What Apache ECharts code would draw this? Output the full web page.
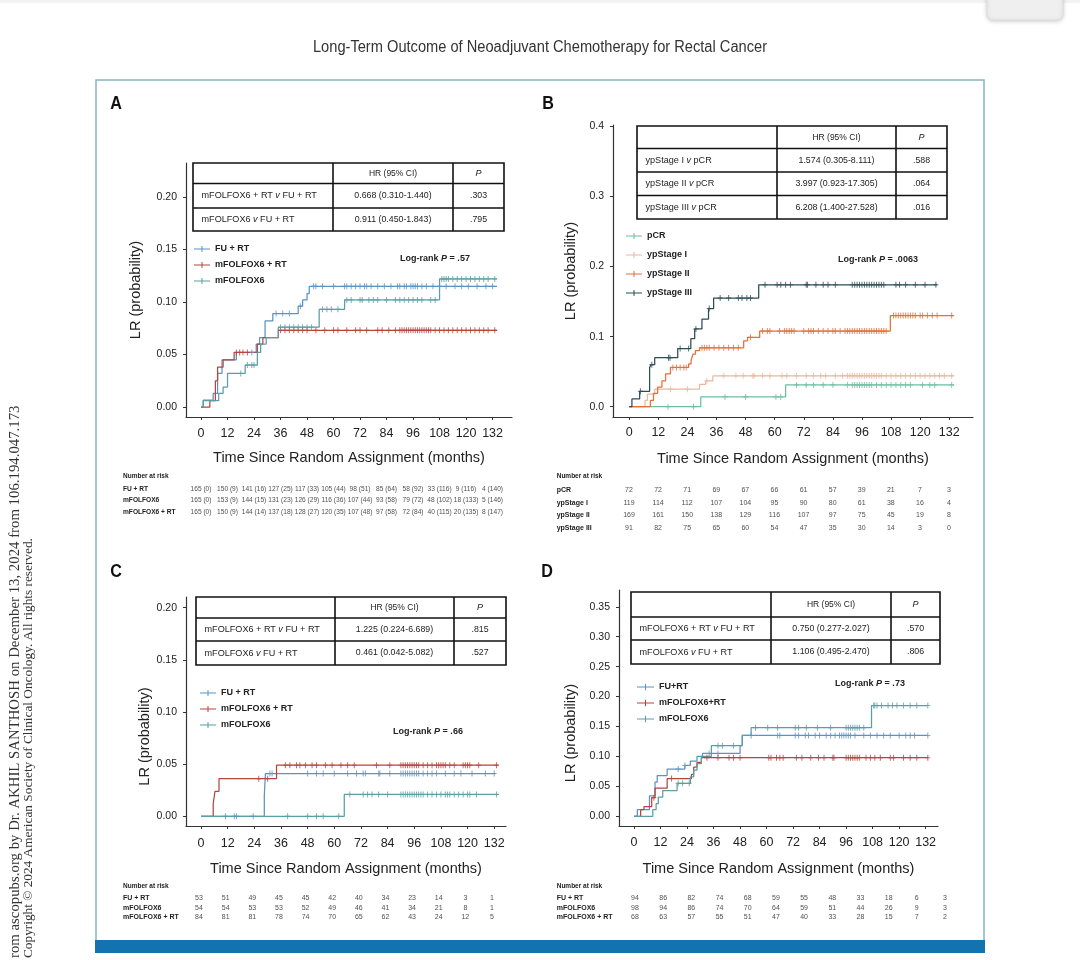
<!DOCTYPE html>
<html><head><meta charset="utf-8">
<script src="https://cdn.jsdelivr.net/npm/echarts@6/dist/echarts.min.js"></script>
<style>html,body{margin:0;padding:0;background:#fff}#c{width:1080px;height:960px}</style>
</head><body><div id="c"></div>
<script>
// ---------------- DATA ----------------
const MONTHS = [0,12,24,36,48,60,72,84,96,108,120,132];

// Panel A : cumulative LR, all patients (steps: [month, probability])
const A_FU_RT = [[0,0],[1,0.0065],[5.5,0.013],[7.5,0.032],[9.5,0.045],[16,0.052],[25,0.060],[26.5,0.066],[29,0.082],[32.5,0.089],[44,0.096],[46,0.102],[48,0.108],[49,0.115],[134,0.115]];
const A_FOLFOX_RT = [[0,0],[4,0.006],[6.5,0.025],[7.5,0.038],[10,0.045],[15,0.052],[25.5,0.060],[28,0.066],[35,0.073],[134,0.073]];
const A_FOLFOX = [[0,0],[1,0.006],[8,0.013],[10,0.019],[12,0.032],[20,0.040],[25.5,0.052],[27,0.060],[29.5,0.066],[35,0.076],[53.5,0.093],[65,0.102],[108,0.122],[134,0.122]];
const A_CENS_FU_RT = [23,34,37,40,45,51,52,55,60,65,66,68,70,72,74,75,77,80,83,86,89,90,92,93,95,96,97,98,100,102,105,108,111,115,118,121,125,129,132];
const A_CENS_FOLFOX_RT = [16,17.5,19,21,36,38,40,42,44,46,48,52,56,60,62,66,70,72,75,80,82,85,88,90,91,92,93,94,95,96,97,98,99,100,101,102,103,104,106,108,110,112,114,116,118,120,122,124,126,128,130,133];
const A_CENS_FOLFOX = [18,21,23,24,36,38,40,42,44,46,48,50,55,57,59,62,66,68,72,73,76,78,80,84,88,90,92,94,96,98,100,104,106,109,110,111,112,114,116,118,120,122,124,126,128,130,133];
const A_RISK_LABELS = ['FU + RT','mFOLFOX6','mFOLFOX6 + RT'];
const A_RISK_FU_RT = [165,150,141,127,117,105,98,85,58,33,9,4];
const A_CENSN_FU_RT = [0,9,16,25,33,44,51,64,92,116,116,140];
const A_RISK_FOLFOX = [165,153,144,131,126,116,107,93,79,48,18,5];
const A_CENSN_FOLFOX = [0,9,15,23,29,36,44,58,72,102,133,146];
const A_RISK_FOLFOX_RT = [165,150,144,137,128,120,107,97,72,40,20,8];
const A_CENSN_FOLFOX_RT = [0,9,14,18,27,35,48,58,84,115,135,147];
const A_HR_LABELS = ['mFOLFOX6 + RT v FU + RT','mFOLFOX6 v FU + RT'];
const A_HR_VALUES = ['0.668 (0.310-1.440)','0.911 (0.450-1.843)'];
const A_HR_P = ['.303','.795'];
const A_LOGRANK = '.57';

// Panel B : by pathologic stage
const B_PCR = [[0,0],[29.5,0.014],[64.5,0.031],[134,0.031]];
const B_S1 = [[0,0],[6.5,0.009],[7.5,0.018],[10.5,0.025],[29,0.032],[31.5,0.037],[34.5,0.044],[134,0.044]];
const B_S2 = [[0,0],[8.7,0.009],[10,0.019],[11.7,0.028],[13.5,0.037],[15,0.047],[17,0.056],[24.5,0.061],[25.5,0.066],[26.3,0.075],[27.3,0.080],[29,0.084],[47.2,0.094],[48.8,0.099],[53.8,0.108],[107.7,0.130],[134,0.130]];
const B_S3 = [[0,0],[1.1,0.011],[4.3,0.022],[8.4,0.056],[9,0.060],[10.5,0.070],[20,0.083],[25.4,0.097],[27,0.111],[30,0.125],[32.7,0.140],[34.8,0.155],[53.4,0.174],[127,0.174]];
const B_CENS_PCR = [16,26.5,39.5,48,60.5,62.5,69,73,76,80,84,90,92,93,94,95,96,97,98,99,100,102,104,106,108,110,112,114,116,121,124,126,133];
const B_CENS_S1 = [17,24,32,39,44,47,51,51.5,55,58,63,65,69,73,76,79,81,85,88,90,91,92,93,94,95,96,97,98,99,100,101,102,103,104,106,108,110,112,114,116,118,120,122,124,126,128,130,133];
const B_CENS_S2 = [18,19.5,21,22.5,23.5,30,31,32,33,35,37,39,41,43,45,50,55,57,58,62,64,65,66,67,68,72,74,75,76,78,80,82,84,85,87,89,90,91,92,93,94,95,96,97,98,99,100,101,102,103,104,105,106,109,110,111,112,113,114,115,116,117,118,120,121,123,125,127,133];
const B_CENS_S3 = [4.6,9.3,16.2,16.8,21,24.5,27.5,33,37.5,41,45,46.5,48.5,50,56,61,62.5,64.5,66.5,73,73.5,77,80,82,85,92,93,94,95,96,97,98,99,100,101,102,103,104,105,110,111.5,114,118,122,126.5];
const B_RISK_LABELS = ['pCR','ypStage I','ypStage II','ypStage III'];
const B_RISK_PCR = [72,72,71,69,67,66,61,57,39,21,7,3];
const B_RISK_S1 = [119,114,112,107,104,95,90,80,61,38,16,4];
const B_RISK_S2 = [169,161,150,138,129,116,107,97,75,45,19,8];
const B_RISK_S3 = [91,82,75,65,60,54,47,35,30,14,3,0];
const B_HR_LABELS = ['ypStage I v pCR','ypStage II v pCR','ypStage III v pCR'];
const B_HR_VALUES = ['1.574 (0.305-8.111)','3.997 (0.923-17.305)','6.208 (1.400-27.528)'];
const B_HR_P = ['.588','.064','.016'];
const B_LOGRANK = '.0063';

// Panel C
const C_FU_RT = [[0,0],[28.5,0.020],[29,0.041],[132.5,0.041]];
const C_FOLFOX_RT = [[0,0],[5.5,0.012],[6.3,0.024],[8.1,0.036],[34,0.049],[134,0.049]];
const C_FOLFOX = [[0,0],[64.5,0.021],[134,0.021]];
const C_CENS_FU_RT = [11,15,16,23.5,31,32,48,52,55,60,66,70,73,74,80,80.5,85,90,91,92,93,94,95,96,97,98,100,102,104,106,110,114,117,122,128,132];
const C_CENS_FOLFOX_RT = [26,30,38,40,43,44.5,47,50,52,56,59,63,66,69,79,85,90,91,92,93,94,95,96,97,98,100,102,104,106,107,108,109,110,112,114,118,119,120,121,125,133];
const C_CENS_FOLFOX = [39,48,52,55,62,67,73,75,77,80,84,90,91,92,93,94,95,96,97,98,99,100,102,104,106,108,110,111,112,114,116,118,120,121,124,133];
const C_RISK_LABELS = ['FU + RT','mFOLFOX6','mFOLFOX6 + RT'];
const C_RISK_FU_RT = [53,51,49,45,45,42,40,34,23,14,3,1];
const C_RISK_FOLFOX = [54,54,53,53,52,49,46,41,34,21,8,1];
const C_RISK_FOLFOX_RT = [84,81,81,78,74,70,65,62,43,24,12,5];
const C_HR_LABELS = ['mFOLFOX6 + RT v FU + RT','mFOLFOX6 v FU + RT'];
const C_HR_VALUES = ['1.225 (0.224-6.689)','0.461 (0.042-5.082)'];
const C_HR_P = ['.815','.527'];
const C_LOGRANK = '.66';

// Panel D
const D_FU_RT = [[0,0],[1.5,0.011],[7,0.034],[9.5,0.057],[10.5,0.068],[15,0.079],[23,0.085],[25.5,0.092],[28.5,0.100],[31,0.105],[48,0.118],[49,0.135],[133,0.135]];
const D_FOLFOX_RT = [[0,0],[3,0.011],[4.5,0.016],[8,0.031],[9.5,0.047],[15,0.063],[26,0.070],[27,0.082],[28.5,0.090],[30.5,0.098],[133,0.098]];
const D_FOLFOX = [[0,0],[8.5,0.011],[10,0.021],[11,0.032],[13,0.043],[19.5,0.055],[25.5,0.066],[27,0.077],[28.5,0.088],[30.5,0.100],[35,0.118],[49,0.135],[53,0.148],[107.5,0.185],[133,0.185]];
const D_CENS_FU_RT = [20,23,34,38,53,65,66,73,74.5,77.5,79,82,84,87,89,91,93,94,95,96,97,98,100,104,107,110,113,116,120,123,125,127,133];
const D_CENS_FOLFOX_RT = [9,17,33,38,43,45,48,61,62,64.5,66,67.5,73.5,76,80,83.5,86,90,90.5,96,97,98,99,100,101,102,105,107,109,111.5,116,117.5,122,125,128,133];
const D_CENS_FOLFOX = [20,22,25,38,40,45,55,60.5,65,73,74.5,78,83,89,96,97,98,99,100,101,102,104,108.5,109,110,112,115,117,119,122,125,128,133];
const D_RISK_LABELS = ['FU + RT','mFOLFOX6','mFOLFOX6 + RT'];
const D_RISK_FU_RT = [94,86,82,74,68,59,55,48,33,18,6,3];
const D_RISK_FOLFOX = [98,94,86,74,70,64,59,51,44,26,9,3];
const D_RISK_FOLFOX_RT = [68,63,57,55,51,47,40,33,28,15,7,2];
const D_HR_LABELS = ['mFOLFOX6 + RT v FU + RT','mFOLFOX6 v FU + RT'];
const D_HR_VALUES = ['0.750 (0.277-2.027)','1.106 (0.495-2.470)'];
const D_HR_P = ['.570','.806'];
const D_LOGRANK = '.73';

const Y_TICKS_A = [0,0.05,0.10,0.15,0.20];
const Y_TICKS_B = [0,0.1,0.2,0.3,0.4];
const Y_TICKS_C = [0,0.05,0.10,0.15,0.20];
const Y_TICKS_D = [0,0.05,0.10,0.15,0.20,0.25,0.30,0.35];

// ---------------- STYLE ----------------
const FONT = "'Liberation Sans', Arial, sans-serif";
const SERIF = "'Liberation Serif', 'Times New Roman', serif";
const C_FU = '#5b93c4', C_FR = '#b5453d', C_FX = '#5a9ea6';
const C_PCR = '#6fbf9f', C_S1 = '#e8b9a0', C_S2 = '#e4703a', C_S3 = '#2d4d55';
const INK = '#222';
const PLUS = 'path://M2,0H3V2.5H5V3.5H3V6H2V3.5H0V2.5H2Z';
const LEG_ICON = 'path://M0,3.5H16V4.5H0ZM7.5,1H8.5V7H7.5Z';

function levelAt(steps, t){ let v = steps[0][1]; for (const s of steps){ if (s[0] <= t) v = s[1]; } return v; }

const panels = [
  {grid:{left:186,top:163,width:326,height:254}, x:[-6.8,140.8], y:[-0.0095,0.2324], yt:Y_TICKS_A, dec:2, xm:10, ym:9, xg:33, yg:43, ypad:0},
  {grid:{left:613,top:125,width:360,height:292}, x:[-6.7,141.8], y:[-0.0147,0.402], yt:Y_TICKS_B, dec:1, xm:9, ym:9, xg:34, yg:35, ypad:0},
  {grid:{left:186,top:597,width:320,height:229}, x:[-6.75,137.3], y:[-0.0093,0.2102], yt:Y_TICKS_C, dec:2, xm:11, ym:9, xg:35, yg:31, ypad:50},
  {grid:{left:619,top:590,width:319,height:236}, x:[-6.8,137.6], y:[-0.0162,0.378], yt:Y_TICKS_D, dec:2, xm:10, ym:9, xg:35, yg:41, ypad:50}
];
const risks = [
  {grid:{left:186,top:483.25,width:326,height:34.5}, x:[-6.8,140.8], rows:A_RISK_LABELS, margin:63, fs:6.6,
   vals:[A_RISK_FU_RT.map((v,i)=>v+' ('+A_CENSN_FU_RT[i]+')'), A_RISK_FOLFOX.map((v,i)=>v+' ('+A_CENSN_FOLFOX[i]+')'), A_RISK_FOLFOX_RT.map((v,i)=>v+' ('+A_CENSN_FOLFOX_RT[i]+')')]},
  {grid:{left:629,top:483.6,width:320,height:51}, x:[0,132], rows:B_RISK_LABELS, margin:72.3, fs:7,
   vals:[B_RISK_PCR,B_RISK_S1,B_RISK_S2,B_RISK_S3]},
  {grid:{left:199,top:893.5,width:293,height:28.5}, x:[0,132], rows:C_RISK_LABELS, margin:76, fs:7,
   vals:[C_RISK_FU_RT,C_RISK_FOLFOX,C_RISK_FOLFOX_RT]},
  {grid:{left:635,top:893.3,width:310,height:29}, x:[0,132], rows:D_RISK_LABELS, margin:78.3, fs:7,
   vals:[D_RISK_FU_RT,D_RISK_FOLFOX,D_RISK_FOLFOX_RT]}
];

const grids = [], xAxes = [], yAxes = [], series = [];
panels.forEach((p,i)=>{
  grids.push(p.grid);
  xAxes.push({gridIndex:i, type:'value', min:p.x[0], max:p.x[1],
    axisLine:{show:true,onZero:false,lineStyle:{color:'#333',width:1.2}},
    axisTick:{show:true,length:3,customValues:MONTHS,lineStyle:{color:'#333'}},
    axisLabel:{customValues:MONTHS,fontSize:12.5,color:INK,margin:p.xm,fontFamily:FONT},
    splitLine:{show:false},
    name:'Time Since Random Assignment (months)', nameLocation:'middle', nameGap:p.xg,
    nameTextStyle:{fontSize:14.5,fontFamily:FONT,color:INK}});
  yAxes.push({gridIndex:i, type:'value', min:p.y[0], max:p.y[1],
    axisLine:{show:true,onZero:false,lineStyle:{color:'#333',width:1.2}},
    axisTick:{show:true,length:3,customValues:p.yt,lineStyle:{color:'#333'}},
    axisLabel:{customValues:p.yt,fontSize:10.5,color:INK,margin:p.ym,fontFamily:FONT,formatter:v=>Number(v).toFixed(p.dec)},
    splitLine:{show:false},
    name:'LR (probability)', nameLocation:'middle', nameGap:p.yg,
    nameTextStyle:{fontSize:14.5,fontFamily:FONT,color:INK,padding:[0,p.ypad,0,0]}});
});
risks.forEach((r,k)=>{
  const gi = 4+k;
  grids.push(r.grid);
  xAxes.push({gridIndex:gi,type:'value',min:r.x[0],max:r.x[1],show:false});
  yAxes.push({gridIndex:gi,type:'category',data:r.rows,inverse:true,
    axisLine:{show:false},axisTick:{show:false},splitLine:{show:false},
    axisLabel:{align:'left',margin:r.margin,fontSize:r.fs,fontWeight:'bold',color:INK,fontFamily:FONT}});
  const data = [];
  r.vals.forEach((row,ri)=>row.forEach((v,j)=>data.push({name:String(v),value:[MONTHS[j],r.rows[ri]]})));
  series.push({type:'scatter',name:'risk'+k,xAxisIndex:gi,yAxisIndex:gi,data,symbolSize:1,
    itemStyle:{color:'rgba(0,0,0,0)'},silent:true,animation:false,
    label:{show:true,position:'inside',formatter:'{b}',fontSize:r.fs,color:INK,fontFamily:FONT}});
});

function curve(name, steps, color, gi){
  return {type:'line',name,xAxisIndex:gi,yAxisIndex:gi,data:steps,step:'end',symbol:'none',showSymbol:false,
    lineStyle:{color,width:1.25},itemStyle:{color},animation:false,silent:true,z:3};
}
function cens(name, times, steps, color, gi){
  return {type:'scatter',name,xAxisIndex:gi,yAxisIndex:gi,data:times.map(t=>[t,levelAt(steps,t)]),
    symbol:PLUS,symbolSize:[5,6],itemStyle:{color},animation:false,silent:true,z:4};
}
series.push(
  curve('FU + RT',A_FU_RT,C_FU,0), curve('mFOLFOX6 + RT',A_FOLFOX_RT,C_FR,0), curve('mFOLFOX6',A_FOLFOX,C_FX,0),
  cens('FU + RT',A_CENS_FU_RT,A_FU_RT,C_FU,0), cens('mFOLFOX6 + RT',A_CENS_FOLFOX_RT,A_FOLFOX_RT,C_FR,0), cens('mFOLFOX6',A_CENS_FOLFOX,A_FOLFOX,C_FX,0),
  curve('pCR',B_PCR,C_PCR,1), curve('ypStage I',B_S1,C_S1,1), curve('ypStage II',B_S2,C_S2,1), curve('ypStage III',B_S3,C_S3,1),
  cens('pCR',B_CENS_PCR,B_PCR,C_PCR,1), cens('ypStage I',B_CENS_S1,B_S1,C_S1,1), cens('ypStage II',B_CENS_S2,B_S2,C_S2,1), cens('ypStage III',B_CENS_S3,B_S3,C_S3,1),
  curve('FU + RT',C_FU_RT,C_FU,2), curve('mFOLFOX6 + RT',C_FOLFOX_RT,C_FR,2), curve('mFOLFOX6',C_FOLFOX,C_FX,2),
  cens('FU + RT',C_CENS_FU_RT,C_FU_RT,C_FU,2), cens('mFOLFOX6 + RT',C_CENS_FOLFOX_RT,C_FOLFOX_RT,C_FR,2), cens('mFOLFOX6',C_CENS_FOLFOX,C_FOLFOX,C_FX,2),
  curve('FU+RT',D_FU_RT,C_FU,3), curve('mFOLFOX6+RT',D_FOLFOX_RT,C_FR,3), curve('mFOLFOX6',D_FOLFOX,C_FX,3),
  cens('FU+RT',D_CENS_FU_RT,D_FU_RT,C_FU,3), cens('mFOLFOX6+RT',D_CENS_FOLFOX_RT,D_FOLFOX_RT,C_FR,3), cens('mFOLFOX6',D_CENS_FOLFOX,D_FOLFOX,C_FX,3)
);

function legend(left, top, gap, w, items){
  return {left, top, orient:'vertical', padding:0, itemWidth:w, itemHeight:7, itemGap:gap, selectedMode:false,
    textStyle:{fontSize:9,fontWeight:'bold',color:INK,fontFamily:FONT,lineHeight:10},
    data:items.map(it=>({name:it[0],icon:LEG_ICON,itemStyle:{color:it[1]}}))};
}
const legends = [
  legend(194,244,6,16,[['FU + RT',C_FU],['mFOLFOX6 + RT',C_FR],['mFOLFOX6',C_FX]]),
  legend(626,231,9,16,[['pCR',C_PCR],['ypStage I',C_S1],['ypStage II',C_S2],['ypStage III',C_S3]]),
  legend(200,688,6,16,[['FU + RT',C_FU],['mFOLFOX6 + RT',C_FR],['mFOLFOX6',C_FX]]),
  legend(637,682,6,17,[['FU+RT',C_FU],['mFOLFOX6+RT',C_FR],['mFOLFOX6',C_FX]])
];

// ---------------- GRAPHIC (frame, tables, annotations) ----------------
const G = [];
function txt(x,y,text,o,extra){ G.push(Object.assign({type:'text',x,y,z:20,silent:true,
  style:Object.assign({text,fill:INK,fontFamily:FONT,fontSize:9,align:'left',verticalAlign:'middle'},o||{})},extra||{})); }
function ln(x1,y1,x2,y2,stroke,w){ G.push({type:'line',z:19,silent:true,shape:{x1,y1,x2,y2},style:{stroke,lineWidth:w}}); }
const RICH = {i:{fontStyle:'italic',fontSize:9.1,fontFamily:FONT,fill:INK}};
function table(xs, ys, labels, values, ps){
  G.push({type:'rect',z:18,silent:true,shape:{x:xs[0],y:ys[0],width:xs[3]-xs[0],height:ys[ys.length-1]-ys[0]},
    style:{fill:'#fff',stroke:'#111',lineWidth:1.6}});
  ln(xs[1],ys[0],xs[1],ys[ys.length-1],'#111',1.6);
  ln(xs[2],ys[0],xs[2],ys[ys.length-1],'#111',1.6);
  for (let k=1;k<ys.length-1;k++) ln(xs[0],ys[k],xs[3],ys[k],'#111',1.6);
  const hy=(ys[0]+ys[1])/2;
  txt((xs[1]+xs[2])/2,hy,'HR (95% CI)',{align:'center',fontSize:8.5});
  txt((xs[2]+xs[3])/2,hy,'P',{align:'center',fontSize:9,fontStyle:'italic'});
  labels.forEach((l,k)=>{
    const cy=(ys[k+1]+ys[k+2])/2;
    txt(xs[0]+8.5,cy,l.replace(' v ',' {i|v} '),{fontSize:9.1,rich:RICH});
    txt((xs[1]+xs[2])/2,cy,values[k],{align:'center',fontSize:8.8});
    txt((xs[2]+xs[3])/2,cy,ps[k],{align:'center',fontSize:8.8});
  });
}
// page decorations
G.push({type:'rect',z:0,silent:true,shape:{x:0,y:0,width:1080,height:3},style:{fill:'#f3f3f3'}});
G.push({type:'rect',z:1,silent:true,shape:{x:987,y:-8,width:76,height:28,r:6},
  style:{fill:'#efefef',stroke:'#dcdcdc',lineWidth:1,shadowBlur:4,shadowColor:'rgba(0,0,0,0.18)',shadowOffsetY:1}});
G.push({type:'rect',z:0,silent:true,shape:{x:96,y:80,width:888,height:870},style:{fill:'#fff',stroke:'#86b5bf',lineWidth:1.5}});
G.push({type:'rect',z:1,silent:true,shape:{x:95,y:940,width:890,height:13},style:{fill:'#1273b0'}});
txt(540,48,'Long-Term Outcome of Neoadjuvant Chemotherapy for Rectal Cancer',{align:'center',fontSize:16,fill:'#333'},{scaleX:0.915});
G.push({type:'text',x:15,y:958,rotation:Math.PI/2,z:20,silent:true,style:{text:'rom ascopubs.org by Dr. AKHIL SANTHOSH on December 13, 2024 from 106.194.047.173',fontFamily:SERIF,fontSize:14.8,fill:'#333',align:'left',verticalAlign:'middle'}});
G.push({type:'text',x:29,y:958,rotation:Math.PI/2,z:20,silent:true,style:{text:'Copyright © 2024 American Society of Clinical Oncology. All rights reserved.',fontFamily:SERIF,fontSize:13.3,fill:'#333',align:'left',verticalAlign:'middle'}});
// panel letters
[['A',116,104],['B',548,104],['C',116,572],['D',547,572]].forEach(l=>
  txt(l[1],l[2],l[0],{align:'center',fontSize:19,fontWeight:'bold',fill:'#111'},{scaleX:0.85}));
// HR tables
table([193,333,453,504],[163,183.5,208,231],A_HR_LABELS,A_HR_VALUES,A_HR_P);
table([637,777,896,947],[126,148.5,172,195.5,219],B_HR_LABELS,B_HR_VALUES,B_HR_P);
table([196,335,454,506],[597,618,641,665],C_HR_LABELS,C_HR_VALUES,C_HR_P);
table([631,771,891,940],[592,617,640,664],D_HR_LABELS,D_HR_VALUES,D_HR_P);
// log-rank annotations
const RB = {i:{fontStyle:'italic',fontWeight:'bold',fontSize:9,fontFamily:FONT,fill:INK}};
txt(435,259,'Log-rank {i|P} = '+A_LOGRANK,{align:'center',fontWeight:'bold',rich:RB});
txt(878,260,'Log-rank {i|P} = '+B_LOGRANK,{align:'center',fontWeight:'bold',rich:RB});
txt(428,732,'Log-rank {i|P} = '+C_LOGRANK,{align:'center',fontWeight:'bold',rich:RB});
txt(870,684,'Log-rank {i|P} = '+D_LOGRANK,{align:'center',fontWeight:'bold',rich:RB});
// number at risk headers
txt(123,476,'Number at risk',{fontSize:6.5,fontWeight:'bold'});
txt(556.7,476,'Number at risk',{fontSize:6.5,fontWeight:'bold'});
txt(123,886,'Number at risk',{fontSize:6.5,fontWeight:'bold'});
txt(556.7,886,'Number at risk',{fontSize:6.5,fontWeight:'bold'});

const chart = echarts.init(document.getElementById('c'));
chart.setOption({
  backgroundColor:'#fff', animation:false,
  grid:grids, xAxis:xAxes, yAxis:yAxes, series, legend:legends,
  graphic:{elements:G}
});
</script>
</body></html>
